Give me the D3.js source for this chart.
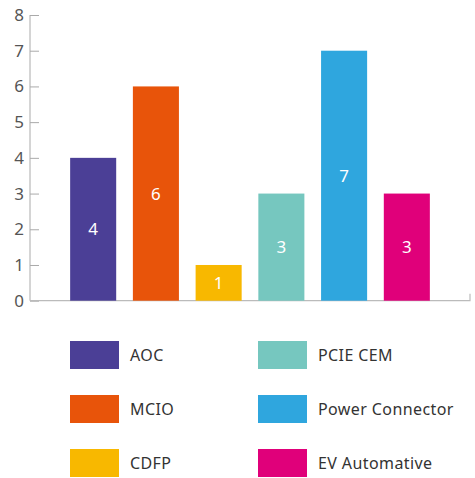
<!DOCTYPE html>
<html><head><meta charset="utf-8">
<script src="https://cdn.jsdelivr.net/npm/d3@7"></script>
<style>html,body{margin:0;padding:0;background:#fff;}</style>
</head><body>
<svg id="c" width="475" height="478"></svg>
<script>
const categories = ["AOC","MCIO","CDFP","PCIE CEM","Power Connector","EV Automative"];
const values = [4,6,1,3,7,3];
const colors = ["#4b3f96","#e8540a","#f8b800","#76c7bf","#2fa6de","#e0007a"];
const yTicks = [0,1,2,3,4,5,6,7,8];

const svg = d3.select("#c");
const x = d3.scaleBand().domain(categories).range([30,470]).paddingInner(0.266).paddingOuter(0.64);
const y = d3.scaleLinear().domain([0,8]).range([300.7,15]);
const font = "'Noto Sans', sans-serif";

// y axis
const yAxis = d3.axisRight(y).tickValues(yTicks).tickSize(9).tickFormat(d3.format("d"));
const ga = svg.append("g").attr("transform","translate(30,0)").call(yAxis);
ga.select(".domain").attr("stroke","#aaa").attr("d","M0,"+y(8)+"V"+y(0));
ga.selectAll(".tick line").attr("stroke","#aaa");
ga.selectAll(".tick text").attr("x",-6).attr("text-anchor","end")
  .attr("fill","#555").attr("font-size",17).attr("font-family",font);

// x axis baseline
svg.append("path").attr("d","M30,"+y(0)+"H470V"+(y(0)-7))
  .attr("fill","none").attr("stroke","#bbb").attr("stroke-width",1.2);

// bars
svg.selectAll("rect.bar").data(categories).join("rect").attr("class","bar")
  .attr("x",d=>x(d)).attr("width",x.bandwidth())
  .attr("y",(d,i)=>y(values[i])).attr("height",(d,i)=>y(0)-y(values[i]))
  .attr("fill",(d,i)=>colors[i]);

svg.selectAll("text.val").data(categories).join("text").attr("class","val")
  .attr("x",d=>x(d)+x.bandwidth()/2)
  .attr("y",(d,i)=>(y(values[i])+y(0))/2)
  .attr("dy","0.36em").attr("text-anchor","middle")
  .attr("fill","#fff").attr("font-size",17).attr("font-family",font)
  .text((d,i)=>values[i]);

// legend
const lg = svg.append("g");
categories.forEach((c,i)=>{
  const col = Math.floor(i/3), row = i%3;
  const lx = 70 + col*188, ly = 341 + row*54;
  lg.append("rect").attr("x",lx).attr("y",ly).attr("width",49).attr("height",28).attr("fill",colors[i]);
  lg.append("text").attr("x",lx+60).attr("y",ly+14).attr("dy","0.36em")
    .attr("fill","#333").attr("font-size",16).attr("letter-spacing","0.4px")
    .attr("font-family",font).text(c);
});
</script>
</body></html>
